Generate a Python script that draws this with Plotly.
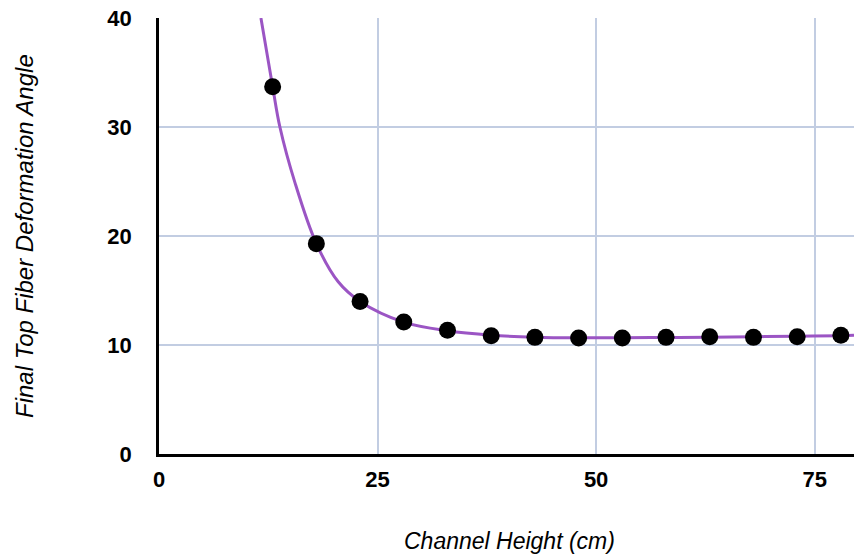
import plotly.graph_objects as go

# Measured channel heights (cm) and final top fiber deformation angles
channel_height = [13, 18, 23, 28, 33, 38, 43, 48, 53, 58, 63, 68, 73, 78]
deformation_angle = [33.7, 19.3, 14.0, 12.1, 11.35, 10.85, 10.7, 10.65,
                     10.65, 10.7, 10.75, 10.7, 10.75, 10.9]

# Fitted trend curve
fit_height = [11.66, 13, 13.83, 15.55, 18, 20.5, 23, 28, 33, 38, 43, 48,
              53, 58, 63, 68, 73, 78, 79.5]
fit_angle = [40, 33.7, 30, 24.9, 19.3, 15.8, 14.0, 12.1, 11.3, 10.9, 10.72,
             10.66, 10.66, 10.69, 10.72, 10.76, 10.8, 10.86, 10.9]

x_ticks = [0, 25, 50, 75]
y_ticks = [0, 10, 20, 30, 40]

FONT = "Liberation Sans, Arial, sans-serif"

fig = go.Figure()
fig.add_trace(go.Scatter(
    x=fit_height, y=fit_angle, mode="lines",
    line=dict(color="#9b55c4", width=3, shape="spline", smoothing=1.0),
    hoverinfo="skip", showlegend=False,
))
fig.add_trace(go.Scatter(
    x=channel_height, y=deformation_angle, mode="markers",
    marker=dict(color="black", size=17, line=dict(width=0)),
    showlegend=False,
))

fig.update_layout(
    width=854, height=557, autosize=False,
    margin=dict(l=159, r=0, t=18, b=103),
    paper_bgcolor="white", plot_bgcolor="white",
    font=dict(family=FONT, color="black"),
    xaxis=dict(
        range=[0, 79.5], tickvals=x_ticks, ticktext=[str(v) for v in x_ticks],
        showgrid=True, gridcolor="#c2cde2", gridwidth=1.5,
        zeroline=False, showline=True, linecolor="black", linewidth=2.5,
        ticks="", ticklabelstandoff=4,
        tickfont=dict(family=FONT, size=22, color="black", weight="bold"),
    ),
    yaxis=dict(
        range=[0, 40], tickvals=y_ticks, ticktext=[str(v) for v in y_ticks],
        showgrid=True, gridcolor="#c2cde2", gridwidth=1.5,
        zeroline=False, showline=True, linecolor="black", linewidth=2.5,
        ticks="", ticklabelstandoff=20,
        tickfont=dict(family=FONT, size=22, color="black", weight="bold"),
    ),
    annotations=[
        dict(text="<i>Channel Height (cm)</i>", xref="paper", yref="paper",
             x=0.505, y=0, yshift=-87, xanchor="center", yanchor="middle",
             showarrow=False, font=dict(family=FONT, size=23, color="black")),
        dict(text="<i>Final Top Fiber Deformation Angle</i>", xref="paper",
             yref="paper", x=0, y=0.5, xshift=-135, textangle=-90,
             xanchor="center", yanchor="middle", showarrow=False,
             font=dict(family=FONT, size=24, color="black")),
    ],
)

fig.write_html("out.html")
